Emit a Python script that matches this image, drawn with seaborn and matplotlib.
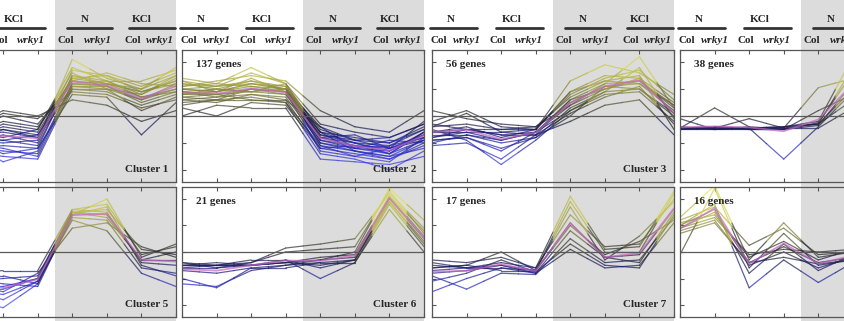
import numpy as np
import pandas as pd
import matplotlib
matplotlib.use("Agg")
import matplotlib.pyplot as plt
from matplotlib.colors import LinearSegmentedColormap, Normalize
from matplotlib.patches import Rectangle
from matplotlib.lines import Line2D
from matplotlib.transforms import blended_transform_factory
import seaborn as sns

# ---- data: standardized expression profiles (8 samples per gene) ----
samples = ["Col", "wrky1", "Col", "wrky1", "Col", "wrky1", "Col", "wrky1"]
groups = ["N", "KCl", "N", "KCl"]

cluster1 = [
    [-0.6, -0.7, -0.2, -0.4, 1.3, 1.2, 0.9, 1.2],
    [-0.8, -0.9, -0.9, -1.1, 1.5, 1.3, 0.8, 1.4],
    [-0.5, -0.6, -0.5, -0.7, 1.1, 1.0, 0.6, 1.0],
    [-1.0, -1.1, -1.3, -1.4, 1.2, 1.1, 0.5, 0.9],
    [-0.4, -0.5, 0.1, -0.1, 0.9, 0.8, 0.3, 0.6],
    [-0.9, -1.0, -0.7, -1.0, 1.7, 1.5, 1.1, 1.6],
    [-0.7, -0.8, -0.4, -0.6, 1.4, 1.2, 0.9, 1.3],
    [-1.2, -1.3, -1.5, -1.6, 1.0, 0.9, 0.4, 0.8],
    [-0.3, -0.4, 0.2, 0.0, 0.6, 0.4, -0.2, 0.2],
    [-0.8, -0.9, -1.0, -0.9, 2.1, 1.4, 1.0, 1.8],
    [-0.6, -0.7, -0.6, -0.8, 1.3, 1.6, 1.2, 1.1],
    [-1.1, -1.2, -1.1, -1.2, 0.8, 0.7, -0.7, 0.5],
    [-0.5, -0.6, -0.8, -0.5, 1.6, 1.0, 0.8, 1.5],
    [-0.9, -1.0, -1.7, -1.3, 1.2, 1.2, 0.7, 1.0],
    [-0.7, -0.8, -0.3, -0.5, 1.8, 1.3, 1.3, 1.7],
    [-0.9, -1.0, -1.2, -1.5, 1.1, 1.1, 0.6, 1.2],
    [-0.6, -0.7, -0.9, -0.7, 1.4, 1.5, 0.9, 1.3],
    [-1.0, -1.1, -0.5, -0.8, 1.0, 1.0, 0.2, 0.7],
    [-0.8, -0.9, -1.4, -1.2, 1.5, 1.2, 1.0, 1.5],
    [-0.5, -0.6, 0.0, -0.3, 1.2, 1.3, 0.7, 0.9],
]
cluster2 = [
    [0.9, 0.8, 1.0, 0.9, -0.8, -1.1, -1.2, -0.7],
    [1.2, 1.1, 1.3, 1.1, -0.5, -0.9, -1.0, -0.5],
    [0.6, 0.7, 0.8, 0.7, -1.0, -1.2, -1.4, -0.9],
    [1.4, 1.2, 1.8, 1.2, -0.3, -0.6, -0.8, -0.3],
    [0.3, 0.0, 0.5, 0.4, -1.2, -1.4, -1.6, -1.1],
    [1.0, 0.9, 1.1, 1.0, -0.7, -1.0, -1.3, -0.6],
    [0.8, 1.0, 0.9, 0.8, -0.9, -1.1, -1.1, -0.8],
    [1.1, 1.3, 1.5, 1.3, 0.2, -0.4, -0.6, 0.2],
    [0.5, 0.6, 0.7, 0.5, -1.4, -1.6, -2.0, -1.3],
    [0.9, 0.7, 1.0, 0.9, -0.6, -0.8, -1.0, -0.4],
    [1.3, 0.9, 1.2, 1.0, -1.1, -1.3, -1.5, -0.9],
    [0.7, 0.8, 0.6, 0.6, -0.4, -1.2, -0.9, -1.0],
    [0.0, 0.4, 0.3, 0.3, -1.6, -1.7, -1.8, -1.5],
    [1.0, 1.1, 1.2, 1.1, -0.8, -0.7, -1.2, -0.2],
    [0.8, 0.9, 1.4, 0.9, -1.3, -1.5, -1.7, -0.8],
    [1.2, 1.0, 0.9, 1.2, -0.6, -1.0, -1.4, -0.6],
    [1.0, 0.9, 1.2, 1.0, -0.9, -1.2, -1.3, -0.7],
    [0.7, 0.6, 1.0, 0.8, -0.7, -0.9, -1.2, -0.9],
    [1.1, 1.2, 1.1, 0.9, -1.0, -1.3, -1.6, -1.0],
    [0.9, 1.0, 1.3, 1.0, -0.4, -0.9, -0.8, -0.3],
    [0.6, 0.5, 0.8, 0.6, -1.2, -1.1, -1.4, -0.6],
    [1.3, 1.1, 1.6, 1.2, -0.8, -1.0, -1.1, -0.5],
    [0.8, 0.8, 0.9, 1.0, -0.6, -1.3, -1.5, -1.2],
    [0.4, 0.6, 0.6, 0.5, -1.1, -1.5, -1.2, -0.8],
]
cluster3 = [
    [-0.6, -0.5, -0.7, -0.6, 0.5, 1.1, 1.2, 0.2],
    [-0.2, 0.2, -0.4, -0.5, 0.9, 1.5, 1.4, 0.5],
    [-0.9, -0.8, -1.2, -0.8, 0.3, 0.9, 1.0, 0.0],
    [-1.1, -1.0, -1.6, -0.7, 0.1, 0.7, 1.1, -0.3],
    [-0.4, -0.3, -0.5, -0.5, 1.3, 1.9, 1.6, 0.8],
    [-0.7, -0.7, -0.9, -0.6, 0.6, 1.2, 2.2, 0.3],
    [-0.8, -0.6, -0.6, -0.7, -0.2, 0.4, 0.6, -0.7],
    [0.2, -0.1, -0.3, -0.4, 0.4, 1.0, 1.3, 0.4],
    [-0.5, -0.9, -1.8, -0.9, 0.2, 0.8, 0.9, -0.2],
    [-0.6, -0.4, -0.8, -0.5, 0.8, 1.4, 1.7, 0.6],
    [-1.0, -0.7, -1.0, -0.8, 0.0, 1.1, 1.0, 0.1],
    [-0.3, -0.5, -0.5, -0.4, 0.7, 1.3, 1.5, -0.5],
    [-0.6, -0.6, -0.9, -0.6, 0.4, 1.2, 1.3, 0.3],
    [-0.8, -0.5, -0.7, -0.7, 0.6, 1.0, 1.4, 0.1],
    [-0.4, 0.1, -0.6, -0.5, 0.9, 1.3, 1.2, 0.4],
    [-0.9, -0.8, -1.3, -0.6, 0.2, 0.9, 1.8, -0.1],
]
cluster4 = [
    [-0.45, -0.45, -0.45, -0.45, -0.3, 1.8, 1.0, 0.5],
    [-0.5, -0.5, -0.5, -0.5, -0.35, 1.2, 0.8, 0.3],
    [-0.4, -0.4, -0.45, -0.4, -0.2, 2.2, 1.2, 0.6],
    [-0.45, 0.3, -0.4, -0.5, 0.2, 0.8, 0.5, 0.2],
    [-0.1, -0.5, -0.45, -1.6, -0.4, 0.9, 0.6, 0.2],
    [-0.5, -0.45, -0.5, -0.45, 1.05, 1.4, 0.9, 0.4],
    [-0.4, -0.5, -0.4, -0.4, -0.3, 0.6, 0.4, 0.1],
    [-0.45, -0.4, -0.5, -0.5, -0.25, 1.6, 1.1, 0.5],
    [-0.5, -0.45, -0.1, -0.45, -0.45, 0.3, 0.2, 0.0],
    [-0.45, -0.5, -0.45, -0.4, -0.3, 1.0, 0.7, 0.3],
]
cluster5 = [
    [-1.3, -1.3, -1.3, -1.0, 1.5, 1.4, -0.3, -0.3],
    [-0.8, -0.8, -0.7, -0.7, 1.6, 1.8, -0.1, 0.2],
    [-1.8, -1.8, -2.1, -1.2, 1.3, 1.2, -0.6, -0.8],
    [-1.1, -1.1, -1.0, -0.9, 1.5, 1.6, 0.1, -0.1],
    [-1.5, -1.5, -1.6, -1.1, 1.2, 0.8, -0.8, -1.3],
    [-1.0, -1.0, -1.2, -1.3, 1.4, 2.0, -0.2, 0.3],
    [-1.6, -1.6, -1.4, -1.0, 1.6, 1.5, -0.4, -0.5],
    [-1.2, -1.2, -1.5, -0.8, 0.9, 1.1, 0.2, -0.2],
    [-1.4, -1.4, -1.8, -1.1, 1.4, 1.7, -0.5, -0.9],
    [-0.9, -0.9, -0.9, -1.2, 1.5, 1.3, -0.3, 0.0],
]
cluster6 = [
    [-0.5, -0.5, -0.5, -0.4, -0.3, -0.2, 2.1, 0.6],
    [-0.4, -0.5, -0.4, 0.15, 0.3, 0.5, 2.2, 0.9],
    [-1.2, -1.3, -0.7, -0.5, -0.4, -0.3, 1.9, 0.3],
    [-0.6, -0.6, -0.5, -0.3, -1.0, -0.4, 1.6, 0.0],
    [-0.7, -0.8, -0.6, -0.5, -0.3, 0.0, 2.4, 1.2],
    [-0.5, -0.4, -0.5, -0.4, -0.5, -0.3, 2.0, 0.5],
    [-0.4, -0.6, -0.4, 0.0, 0.1, 0.2, 2.3, 0.7],
    [-1.0, -1.35, -0.6, -0.6, -0.4, -0.4, 1.8, 0.2],
    [-0.6, -0.5, -0.5, -0.4, -0.2, -0.1, 2.1, 0.8],
    [-0.5, -0.5, -0.3, -0.3, -0.6, -0.3, 1.9, 0.4],
]
cluster7 = [
    [-0.7, -0.6, -0.5, -0.7, 1.1, -0.2, -0.1, 1.6],
    [-0.3, -0.4, -0.2, -0.6, 2.1, 0.1, 0.2, 2.3],
    [-1.5, -1.0, -0.6, -0.8, 0.1, -0.6, -0.5, 1.1],
    [-0.6, -0.5, 0.0, -0.7, 1.7, -0.3, 0.6, 1.9],
    [-0.9, -1.4, -0.8, -0.85, 0.5, -0.4, -0.3, 1.3],
    [-0.5, -0.6, -0.4, -0.6, 1.4, 0.2, 0.3, 2.0],
    [-0.8, -0.7, -0.5, -0.8, 0.8, -0.2, -0.4, 1.5],
    [-0.6, -0.5, -0.7, -0.7, 1.0, -0.1, 0.4, 1.2],
    [-1.1, -0.8, -0.3, -0.75, 0.3, -0.5, -0.6, 1.4],
    [-0.4, -0.6, -0.6, -0.7, 1.9, 0.0, 0.0, 2.2],
]
cluster8 = [
    [0.9, 1.5, -0.4, 0.2, -0.4, -0.2, 0.0, 0.0],
    [1.3, 2.5, -0.3, 1.1, -0.2, 0.0, 0.0, 0.0],
    [-0.1, 2.4, -0.6, 0.7, -0.5, -0.3, 0.0, 0.0],
    [1.0, 1.8, -1.35, -0.3, -1.15, -0.4, 0.0, 0.0],
    [1.1, 1.4, -0.2, 0.4, -0.3, 0.1, 0.0, 0.0],
    [0.8, 1.2, -0.5, 0.0, -0.6, -0.2, 0.0, 0.0],
    [1.2, 1.7, 0.25, 0.9, -0.1, 0.0, 0.0, 0.0],
    [0.7, 1.1, -0.4, -0.2, -0.45, -0.3, 0.0, 0.0],
    [1.0, 1.6, -0.8, 0.3, -0.7, -0.1, 0.0, 0.0],
    [0.9, 1.3, -0.1, 0.1, 0.0, 0.1, 0.0, 0.0],
]

clusters = [cluster1, cluster2, cluster3, cluster4,
            cluster5, cluster6, cluster7, cluster8]
cluster_names = ["Cluster 1", "Cluster 2", "Cluster 3", None,
                 "Cluster 5", "Cluster 6", "Cluster 7", None]
gene_counts = [None, "137 genes", "56 genes", "38 genes",
               None, "21 genes", "17 genes", "16 genes"]

# ---- style ----
sns.set_style("white")
plt.rcParams["font.family"] = ["Liberation Serif", "DejaVu Serif"]
plt.rcParams["font.weight"] = "bold"

W, H = 845, 321
fig = plt.figure(figsize=(W / 100, H / 100), dpi=100)
fig.patch.set_facecolor("white")

expr_cmap = LinearSegmentedColormap.from_list(
    "expr",
    [(0.00, "#5a5aff"), (0.22, "#2a2ac8"), (0.38, "#1c1c6a"),
     (0.48, "#262630"), (0.56, "#3c3c30"), (0.68, "#7e7e3a"),
     (0.82, "#b4b440"), (1.00, "#ecec55")])
norm = Normalize(-2.3, 2.3)

col_left = [-66, 182, 432, 680]
col_width = 242
row_spans = [(50, 182), (187, 317)]
YLIM = (-2.45, 2.45)
GRAY = "#dcdcdc"


def px_axes(left, top, bottom):
    return fig.add_axes([left / W, 1 - bottom / H, col_width / W, (bottom - top) / H])


def segment_frame(profiles):
    """Split every profile into half-segments so each piece takes the colour
    of the value it sits next to."""
    rows = []
    for g, prof in enumerate(profiles):
        for k in range(len(prof) - 1):
            v0, v1 = prof[k], prof[k + 1]
            vm = 0.5 * (v0 + v1)
            ida, idb = f"{g}-{k}a", f"{g}-{k}b"
            la, lb = 0.8 * v0 + 0.2 * v1, 0.2 * v0 + 0.8 * v1
            rows += [(ida, k, v0, la), (ida, k + 0.5, vm, la),
                     (idb, k + 0.5, vm, lb), (idb, k + 1, v1, lb)]
    return pd.DataFrame(rows, columns=["seg", "sample", "value", "level"])


def long_frame(profiles):
    rows = [(g, k, v) for g, prof in enumerate(profiles) for k, v in enumerate(prof)]
    return pd.DataFrame(rows, columns=["gene", "sample", "value"])


axes = []
for i, profiles in enumerate(clusters):
    r, c = divmod(i, 4)
    top, bottom = row_spans[r]
    ax = px_axes(col_left[c], top, bottom)
    ax.set_facecolor("none")
    axes.append(ax)

    seg = segment_frame(profiles)
    sns.lineplot(data=seg, x="sample", y="value", units="seg", hue="level",
                 palette=expr_cmap, hue_norm=norm, estimator=None, sort=False,
                 legend=False, lw=0.9, alpha=0.72, ax=ax)
    sns.lineplot(data=long_frame(profiles), x="sample", y="value",
                 estimator="mean", errorbar=None, color="#c468c4",
                 lw=1.3, alpha=0.7, ax=ax)

    ax.axhline(0, color="#5a5a5a", lw=0.9, zorder=5)
    ax.set_xlim(0, 7)
    ax.set_ylim(*YLIM)
    ax.set_xticks(range(8))
    ax.set_yticks([-2, -1, 0, 1, 2])
    ax.tick_params(axis="x", direction="in", top=True, bottom=True,
                   labelbottom=False, length=3, width=0.8, color="#555555")
    ax.tick_params(axis="y", direction="in", left=True, right=False,
                   labelleft=False, length=3, width=0.8, color="#555555")
    ax.set_xlabel("")
    ax.set_ylabel("")
    for sp in ax.spines.values():
        sp.set_color("#555555")
        sp.set_linewidth(0.9)

    if cluster_names[i]:
        ax.text(6.78, -1.97, cluster_names[i], ha="right", va="center",
                fontsize=8, fontweight="bold", zorder=6)
    if gene_counts[i]:
        ax.text(0.4, 1.9, gene_counts[i], ha="left", va="center",
                fontsize=8, fontweight="bold", zorder=6)

# shaded background for the right half of every column, full height,
# plus the treatment / genotype header above each column
col_labels_x = [0.2, 1.0, 1.9, 2.8, 3.8, 4.75, 5.75, 6.55]
group_x = [0.55, 2.3, 4.35, 6.0]
group_lines = [(-0.05, 1.3), (1.85, 3.2), (3.85, 5.15), (5.65, 6.97)]

for c in range(4):
    ax = axes[c]
    tr = blended_transform_factory(ax.transData, fig.transFigure)
    fig.add_artist(Rectangle((3.5, 0), 3.5, 1, transform=tr,
                             facecolor=GRAY, edgecolor="none", zorder=-5))
    for gx, name in zip(group_x, groups):
        fig.text(gx, 1 - 19 / H, name, transform=tr, ha="center", va="center",
                 fontsize=8, fontweight="bold")
    for x0, x1 in group_lines:
        fig.add_artist(Line2D([x0, x1], [1 - 28 / H] * 2, transform=tr,
                              color="#333333", lw=2.0))
    for lx, name in zip(col_labels_x, samples):
        fig.text(lx, 1 - 40.5 / H, name, transform=tr, ha="center", va="center",
                 fontsize=8, fontweight="bold",
                 style="italic" if name == "wrky1" else "normal")

fig.savefig("out.png", dpi=100, facecolor="white")
